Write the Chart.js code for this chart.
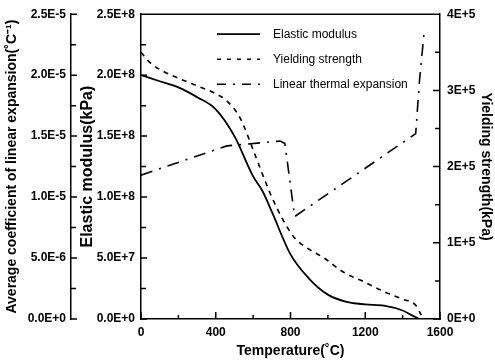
<!DOCTYPE html>
<html>
<head>
<meta charset="utf-8">
<script src="https://cdn.jsdelivr.net/npm/chart.js"></script>
<style>
  html, body { margin: 0; padding: 0; background: #fff; }
  #wrap { width: 495px; height: 360px; position: relative; }
</style>
</head>
<body>
<div id="wrap"><canvas id="chart"></canvas></div>
<script>
// values
const modulusTemps = [0, 100, 200, 300, 400, 500, 600, 650, 700, 800, 900, 1000, 1100, 1200, 1300, 1400, 1450, 1490];
const elasticModulus = [2.0e8, 1.95e8, 1.9e8, 1.82e8, 1.72e8, 1.5e8, 1.17e8, 1.05e8, 0.88e8, 0.53e8, 0.33e8, 0.2e8, 0.14e8, 0.12e8, 0.11e8, 0.07e8, 0.03e8, 0];

const yieldTemps = [0, 50, 120, 210, 300, 390, 460, 530, 600, 650, 700, 760, 820, 890, 980, 1080, 1200, 1300, 1400, 1470, 1500];
const yieldStrength = [3.5e5, 3.36e5, 3.25e5, 3.15e5, 3.06e5, 2.97e5, 2.86e5, 2.64e5, 2.22e5, 1.9e5, 1.6e5, 1.3e5, 1.07e5, 0.93e5, 0.8e5, 0.62e5, 0.48e5, 0.36e5, 0.26e5, 0.18e5, 0.05e5];

const expansionTemps = [0, 460, 745, 770, 822, 1470, 1490, 1515];
const thermalExpansion = [1.18e-5, 1.42e-5, 1.46e-5, 1.44e-5, 0.84e-5, 1.52e-5, 1.95e-5, 2.35e-5];

const tempTicks = [0, 400, 800, 1200, 1600];
const tempTickLabels = ['0', '400', '800', '1200', '1600'];
const expansionTicks = [0, 5e-6, 1e-5, 1.5e-5, 2e-5, 2.5e-5];
const expansionTickLabels = ['0.0E+0', '5.0E-6', '1.0E-5', '1.5E-5', '2.0E-5', '2.5E-5'];
const modulusTicks = [0, 5e7, 1e8, 1.5e8, 2e8, 2.5e8];
const modulusTickLabels = ['0.0E+0', '5.0E+7', '1.0E+8', '1.5E+8', '2.0E+8', '2.5E+8'];
const yieldTicks = [0, 1e5, 2e5, 3e5, 4e5];
const yieldTickLabels = ['0E+0', '1E+5', '2E+5', '3E+5', '4E+5'];

const FONT = "'Liberation Sans', Arial, sans-serif";
const tickFont = { family: FONT, size: 12, weight: 'bold' };

const pairs = (xs, ys) => xs.map((x, i) => ({ x, y: ys[i] }));

// minor ticks sit half way between the major ones
const withMinor = (ticks) => {
  const out = [];
  ticks.forEach((v, i) => {
    out.push({ v, major: true });
    if (i < ticks.length - 1) out.push({ v: (v + ticks[i + 1]) / 2, major: false });
  });
  return out;
};

// ticks pointing into the plot, plus the top frame line
const inwardTicks = {
  id: 'inwardTicks',
  afterDraw(chart) {
    const { ctx, chartArea: a, scales } = chart;
    ctx.save();
    ctx.strokeStyle = '#000';
    ctx.lineWidth = 1.5;
    ctx.beginPath();
    ctx.moveTo(a.left, a.top);
    ctx.lineTo(a.right, a.top);

    withMinor(tempTicks).forEach(t => {
      const x = scales.x.getPixelForValue(t.v);
      ctx.moveTo(x, a.bottom);
      ctx.lineTo(x, a.bottom - (t.major ? 7 : 4));
    });
    withMinor(expansionTicks).forEach(t => {
      const y = scales.yExp.getPixelForValue(t.v);
      const x0 = scales.yExp.right;
      ctx.moveTo(x0, y);
      ctx.lineTo(x0 + (t.major ? 6 : 5), y);
    });
    withMinor(modulusTicks).forEach(t => {
      const y = scales.yMod.getPixelForValue(t.v);
      ctx.moveTo(a.left, y);
      ctx.lineTo(a.left + (t.major ? 6 : 5), y);
    });
    withMinor(yieldTicks).forEach(t => {
      const y = scales.yYield.getPixelForValue(t.v);
      ctx.moveTo(a.right, y);
      ctx.lineTo(a.right - (t.major ? 7 : 5), y);
    });
    ctx.stroke();
    ctx.restore();
  }
};

// legend drawn inside the plot, top right
const innerLegend = {
  id: 'innerLegend',
  afterDraw(chart) {
    const { ctx, chartArea: a } = chart;
    ctx.save();
    ctx.font = '12px ' + FONT;
    ctx.textBaseline = 'middle';
    ctx.fillStyle = '#000';
    chart.data.datasets.forEach((ds, i) => {
      const y = a.top + 20 + i * 25;
      const x0 = a.left + 76;
      ctx.strokeStyle = '#000';
      ctx.lineWidth = ds.borderWidth;
      ctx.setLineDash(ds.legendDash || []);
      ctx.beginPath();
      ctx.moveTo(x0, y);
      ctx.lineTo(x0 + 43, y);
      ctx.stroke();
      ctx.setLineDash([]);
      ctx.fillText(ds.label, x0 + 56, y);
    });
    ctx.restore();
  }
};

const fixWidth = (w) => (scale) => { scale.width = w; };

new Chart(document.getElementById('chart'), {
  type: 'line',
  data: {
    datasets: [
      {
        label: 'Elastic modulus',
        data: pairs(modulusTemps, elasticModulus),
        yAxisID: 'yMod',
        borderColor: '#000',
        borderWidth: 1.8,
        pointRadius: 0,
        cubicInterpolationMode: 'monotone'
      },
      {
        label: 'Yielding strength',
        data: pairs(yieldTemps, yieldStrength),
        yAxisID: 'yYield',
        borderColor: '#000',
        borderWidth: 1.6,
        borderDash: [5, 5],
        legendDash: [4, 6],
        pointRadius: 0,
        cubicInterpolationMode: 'monotone'
      },
      {
        label: 'Linear thermal expansion',
        data: pairs(expansionTemps, thermalExpansion),
        yAxisID: 'yExp',
        borderColor: '#000',
        borderWidth: 1.6,
        borderDash: [12, 7, 2, 7],
        legendDash: [9, 7, 2, 7],
        pointRadius: 0,
        tension: 0
      }
    ]
  },
  options: {
    responsive: true,
    maintainAspectRatio: false,
    animation: false,
    layout: { padding: { top: 13, right: 0, left: 0, bottom: 0 } },
    plugins: { legend: { display: false }, tooltip: { enabled: false } },
    scales: {
      x: {
        type: 'linear',
        position: 'bottom',
        min: 0,
        max: 1600,
        afterBuildTicks: (s) => { s.ticks = tempTicks.map(v => ({ value: v })); },
        afterFit: (s) => { s.height = 41; },
        grid: { display: false, drawTicks: false },
        border: { display: true, color: '#000', width: 1.5 },
        ticks: { color: '#000', font: tickFont, padding: 6, maxRotation: 0, callback: (v, i) => tempTickLabels[i] },
        title: {
          display: true,
          text: 'Temperature(˚C)',
          color: '#000',
          font: { family: FONT, size: 14, weight: 'bold' },
          padding: { top: 2, bottom: 0 }
        }
      },
      yExp: {
        type: 'linear',
        position: 'left',
        weight: 2,
        min: 0,
        max: 2.5e-5,
        afterBuildTicks: (s) => { s.ticks = expansionTicks.map(v => ({ value: v })); },
        afterFit: fixWidth(71),
        grid: { display: false, drawTicks: false },
        border: { display: true, color: '#000', width: 1.5 },
        ticks: { color: '#000', font: tickFont, padding: 5, callback: (v, i) => expansionTickLabels[i] },
        title: {
          display: true,
          text: 'Average coefficient of linear expansion(˚C⁻¹)',
          color: '#000',
          font: { family: FONT, size: 14, weight: 'bold' },
          padding: { top: 4, bottom: 0 }
        }
      },
      yMod: {
        type: 'linear',
        position: 'left',
        weight: 1,
        min: 0,
        max: 2.5e8,
        afterBuildTicks: (s) => { s.ticks = modulusTicks.map(v => ({ value: v })); },
        afterFit: fixWidth(70),
        grid: { display: false, drawTicks: false },
        border: { display: true, color: '#000', width: 1.5 },
        ticks: { color: '#000', font: tickFont, padding: 6, callback: (v, i) => modulusTickLabels[i] },
        title: {
          display: true,
          text: 'Elastic modulus(kPa)',
          color: '#000',
          font: { family: FONT, size: 16, weight: 'bold' },
          padding: { top: 7, bottom: 0 }
        }
      },
      yYield: {
        type: 'linear',
        position: 'right',
        min: 0,
        max: 4e5,
        afterBuildTicks: (s) => { s.ticks = yieldTicks.map(v => ({ value: v })); },
        afterFit: fixWidth(55),
        grid: { display: false, drawTicks: false },
        border: { display: true, color: '#000', width: 1.5 },
        ticks: { color: '#000', font: tickFont, padding: 7, callback: (v, i) => yieldTickLabels[i] },
        title: {
          display: true,
          text: 'Yielding strength(kPa)',
          color: '#000',
          font: { family: FONT, size: 14, weight: 'bold' },
          padding: { top: 1, bottom: 0 }
        }
      }
    }
  },
  plugins: [inwardTicks, innerLegend]
});
</script>
</body>
</html>
